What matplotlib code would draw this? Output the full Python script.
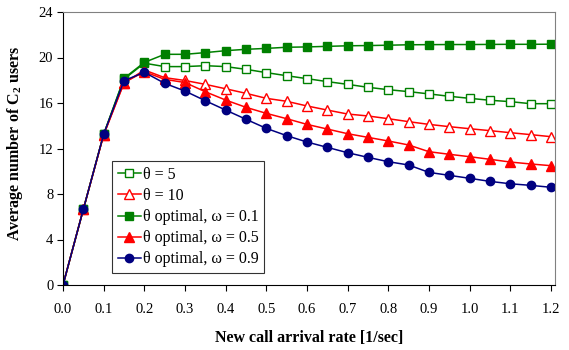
import matplotlib
matplotlib.use('Agg')
import matplotlib.pyplot as plt

plt.rcParams['font.family'] = ['Liberation Serif', 'DejaVu Serif']
plt.rcParams['mathtext.fontset'] = 'custom'
plt.rcParams['mathtext.rm'] = 'Liberation Serif'
plt.rcParams['mathtext.bf'] = 'Liberation Serif:bold'

# 数据
rate = [0.0, 0.05, 0.1, 0.15, 0.2, 0.25, 0.3, 0.35, 0.4, 0.45, 0.5, 0.55, 0.6,
        0.65, 0.7, 0.75, 0.8, 0.85, 0.9, 0.95, 1.0, 1.05, 1.1, 1.15, 1.2]
theta5 = [0, 6.65, 13.25, 18.1, 19.5, 19.2, 19.2, 19.28, 19.2, 18.96, 18.67, 18.4, 18.14,
          17.88, 17.64, 17.38, 17.17, 17.0, 16.8, 16.59, 16.41, 16.24, 16.12, 15.94, 15.94]
theta10 = [0, 6.65, 13.2, 17.75, 18.9, 18.23, 17.98, 17.64, 17.25, 16.85, 16.41, 16.15, 15.74,
           15.38, 15.03, 14.86, 14.62, 14.36, 14.12, 13.92, 13.74, 13.57, 13.39, 13.22, 13.04]
opt01 = [0, 6.65, 13.25, 18.17, 19.57, 20.28, 20.28, 20.43, 20.6, 20.72, 20.8, 20.9, 20.93,
         20.98, 21.03, 21.05, 21.08, 21.12, 21.13, 21.14, 21.14, 21.15, 21.16, 21.16, 21.17]
opt05 = [0, 6.65, 13.2, 17.8, 18.75, 18.08, 17.8, 16.99, 16.26, 15.62, 15.09, 14.62, 14.12,
         13.71, 13.3, 12.98, 12.66, 12.31, 11.72, 11.49, 11.28, 11.05, 10.81, 10.64, 10.49]
opt09 = [0, 6.65, 13.25, 17.96, 18.7, 17.73, 17.05, 16.2, 15.38, 14.57, 13.77, 13.13, 12.57,
         12.1, 11.63, 11.22, 10.84, 10.55, 9.9, 9.64, 9.38, 9.11, 8.9, 8.76, 8.59]

fig = plt.figure(figsize=(5.69, 3.5), dpi=100)
ax = fig.add_axes([63 / 569, 1 - 285 / 350, (555 - 63) / 569, (285 - 12) / 350])

green = '#008000'
red = '#ff0000'
navy = '#000080'
lw = 1.1

ax.plot(rate, theta5, '-s', color=green, mfc='white', mec=green, mew=1.0, ms=5.5, lw=lw, label='θ = 5')
ax.plot(rate, theta10, '-^', color=red, mfc='white', mec=red, mew=1.0, ms=6.5, lw=lw, label='θ = 10')
ax.plot(rate, opt01, '-s', color=green, ms=5.5, lw=lw, label='θ optimal, ω = 0.1')
ax.plot(rate, opt05, '-^', color=red, ms=6.5, lw=lw, label='θ optimal, ω = 0.5')
ax.plot(rate, opt09, '-o', color=navy, ms=6, lw=lw, label='θ optimal, ω = 0.9')

ax.set_xlim(0, 1.21)
ax.set_ylim(0, 24)
ax.set_xticks([i / 10 for i in range(13)])
ax.set_xticklabels([f'{i / 10:.1f}' for i in range(13)])
ax.set_yticks(range(0, 25, 4))

ax.tick_params(direction='out', length=4, width=0.8, labelsize=10.5, colors='black')
ax.tick_params(axis='x', pad=9)
ax.tick_params(axis='y', pad=3)

for s in ['top', 'right']:
    ax.spines[s].set_color('#808080')
for s in ['left', 'bottom']:
    ax.spines[s].set_color('black')

ax.set_xlabel('New call arrival rate [1/sec]', fontsize=11.5, fontweight='bold', labelpad=10)
ax.set_ylabel(r'Average number of C$_\mathbf{2}$ users', fontsize=11.5, fontweight='bold')
ax.yaxis.set_label_coords(-0.077, 0.52)

leg = ax.legend(loc='lower left', bbox_to_anchor=((112 - 63) / 492, (285 - 273) / 273),
                fontsize=11.5, frameon=True, fancybox=False, edgecolor='black',
                handlelength=1.45, handletextpad=0.15, borderpad=0.35, labelspacing=0.32,
                borderaxespad=0)
leg.get_frame().set_linewidth(0.8)

fig.savefig('out.png', dpi=100)
